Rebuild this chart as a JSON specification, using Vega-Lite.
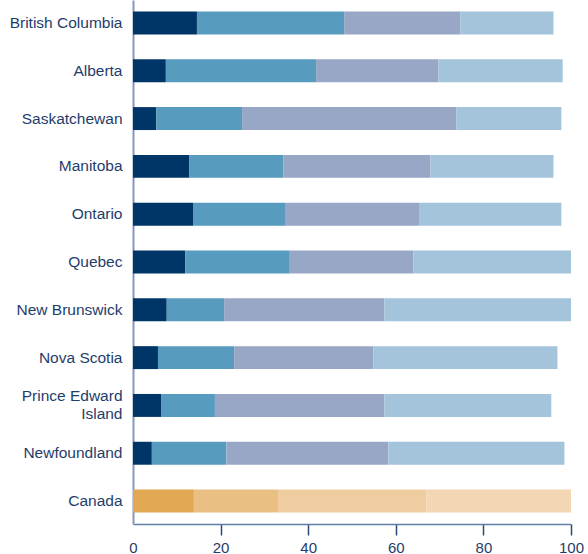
{
  "$schema": "https://vega.github.io/schema/vega-lite/v6.json",
  "autosize": {"type": "none"},
  "width": 438,
  "height": 524,
  "padding": {"left": 133, "top": 0, "right": 17, "bottom": 30},
  "background": "white",
  "config": {"view": {"stroke": null}, "font": "Liberation Sans"},
  "data": {"values": [
    {"region": "British Columbia", "seg": 1, "key": "P1", "value": 14.6},
    {"region": "British Columbia", "seg": 2, "key": "P2", "value": 33.6},
    {"region": "British Columbia", "seg": 3, "key": "P3", "value": 26.5},
    {"region": "British Columbia", "seg": 4, "key": "P4", "value": 21.3},
    {"region": "Alberta", "seg": 1, "key": "P1", "value": 7.5},
    {"region": "Alberta", "seg": 2, "key": "P2", "value": 34.3},
    {"region": "Alberta", "seg": 3, "key": "P3", "value": 27.9},
    {"region": "Alberta", "seg": 4, "key": "P4", "value": 28.4},
    {"region": "Saskatchewan", "seg": 1, "key": "P1", "value": 5.3},
    {"region": "Saskatchewan", "seg": 2, "key": "P2", "value": 19.6},
    {"region": "Saskatchewan", "seg": 3, "key": "P3", "value": 48.9},
    {"region": "Saskatchewan", "seg": 4, "key": "P4", "value": 24.0},
    {"region": "Manitoba", "seg": 1, "key": "P1", "value": 12.8},
    {"region": "Manitoba", "seg": 2, "key": "P2", "value": 21.5},
    {"region": "Manitoba", "seg": 3, "key": "P3", "value": 33.6},
    {"region": "Manitoba", "seg": 4, "key": "P4", "value": 28.1},
    {"region": "Ontario", "seg": 1, "key": "P1", "value": 13.7},
    {"region": "Ontario", "seg": 2, "key": "P2", "value": 21.0},
    {"region": "Ontario", "seg": 3, "key": "P3", "value": 30.6},
    {"region": "Ontario", "seg": 4, "key": "P4", "value": 32.5},
    {"region": "Quebec", "seg": 1, "key": "P1", "value": 11.9},
    {"region": "Quebec", "seg": 2, "key": "P2", "value": 23.9},
    {"region": "Quebec", "seg": 3, "key": "P3", "value": 28.2},
    {"region": "Quebec", "seg": 4, "key": "P4", "value": 36.0},
    {"region": "New Brunswick", "seg": 1, "key": "P1", "value": 7.7},
    {"region": "New Brunswick", "seg": 2, "key": "P2", "value": 13.1},
    {"region": "New Brunswick", "seg": 3, "key": "P3", "value": 36.6},
    {"region": "New Brunswick", "seg": 4, "key": "P4", "value": 42.6},
    {"region": "Nova Scotia", "seg": 1, "key": "P1", "value": 5.7},
    {"region": "Nova Scotia", "seg": 2, "key": "P2", "value": 17.4},
    {"region": "Nova Scotia", "seg": 3, "key": "P3", "value": 31.8},
    {"region": "Nova Scotia", "seg": 4, "key": "P4", "value": 42.0},
    {"region": "Prince Edward Island", "seg": 1, "key": "P1", "value": 6.4},
    {"region": "Prince Edward Island", "seg": 2, "key": "P2", "value": 12.3},
    {"region": "Prince Edward Island", "seg": 3, "key": "P3", "value": 38.7},
    {"region": "Prince Edward Island", "seg": 4, "key": "P4", "value": 38.1},
    {"region": "Newfoundland", "seg": 1, "key": "P1", "value": 4.3},
    {"region": "Newfoundland", "seg": 2, "key": "P2", "value": 17.0},
    {"region": "Newfoundland", "seg": 3, "key": "P3", "value": 37.0},
    {"region": "Newfoundland", "seg": 4, "key": "P4", "value": 40.2},
    {"region": "Canada", "seg": 1, "key": "C1", "value": 13.9},
    {"region": "Canada", "seg": 2, "key": "C2", "value": 19.2},
    {"region": "Canada", "seg": 3, "key": "C3", "value": 33.9},
    {"region": "Canada", "seg": 4, "key": "C4", "value": 33.0}
  ]},
  "mark": {"type": "bar"},
  "encoding": {
    "y": {
      "field": "region", "type": "nominal",
      "sort": ["British Columbia", "Alberta", "Saskatchewan", "Manitoba", "Ontario", "Quebec", "New Brunswick", "Nova Scotia", "Prince Edward Island", "Newfoundland", "Canada"],
      "scale": {"paddingInner": 0.52, "paddingOuter": 0.24},
      "axis": {
        "title": null, "ticks": false, "domainColor": "#8799ba", "domainWidth": 2,
        "labelFontSize": 15.5, "labelColor": "#1f3d6b", "labelPadding": 11,
        "labelLineHeight": 18, "labelLimit": 200,
        "labelOffset": {"condition": {"test": "datum.value == 'Prince Edward Island'", "value": -9}, "value": 0},
        "labelExpr": "datum.label == 'Prince Edward Island' ? ['Prince Edward', 'Island'] : datum.label"
      }
    },
    "x": {
      "field": "value", "type": "quantitative", "stack": "zero",
      "scale": {"domain": [0, 100], "nice": false},
      "axis": {
        "title": null, "grid": false, "values": [0, 20, 40, 60, 80, 100],
        "domainColor": "#5f7fa8", "domainWidth": 1.5,
        "tickColor": {"condition": {"test": "datum.value == 0", "value": "transparent"}, "value": "#2a4a7a"},
        "tickSize": 11, "tickWidth": 1.5,
        "labelFontSize": 15, "labelColor": "#1f3d6b", "labelPadding": 5, "labelFlush": false
      }
    },
    "color": {
      "field": "key", "type": "nominal", "legend": null,
      "scale": {
        "domain": ["P1", "P2", "P3", "P4", "C1", "C2", "C3", "C4"],
        "range": ["#003567", "#579bbf", "#98a7c6", "#a3c4db", "#e2a854", "#eabf84", "#f0cda0", "#f3d6b4"]
      }
    },
    "order": {"field": "seg", "type": "quantitative"}
  }
}
